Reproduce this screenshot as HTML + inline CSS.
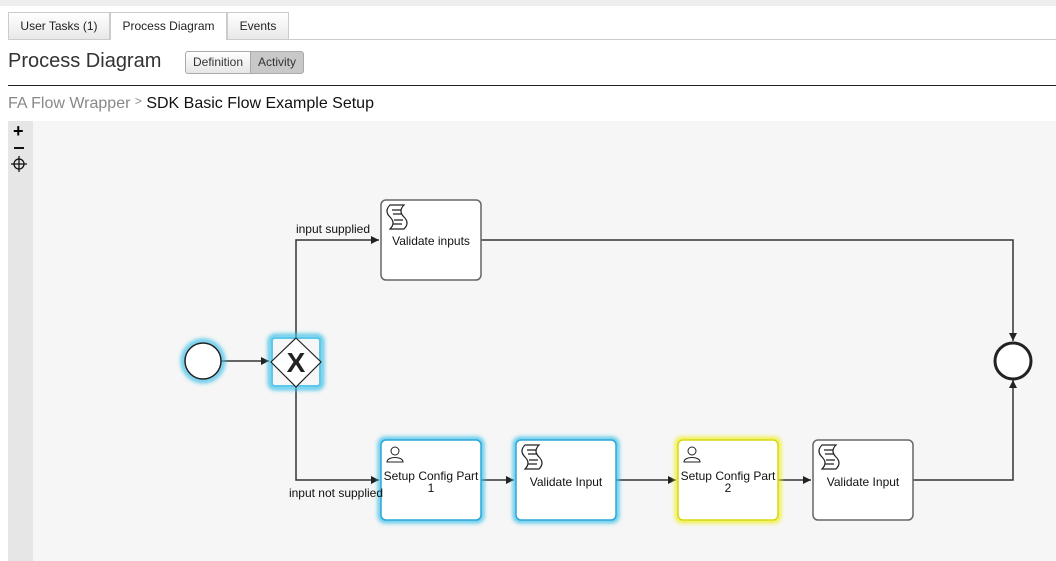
<!DOCTYPE html>
<html><head><meta charset="utf-8"><style>
body{margin:0;width:1056px;height:561px;overflow:hidden;background:#fff;font-family:"Liberation Sans",Arial,sans-serif;position:relative}
.a{position:absolute}
.tab{position:absolute;top:12px;height:27px;border:1px solid #ccc;border-bottom:none;font-size:12px;line-height:27px;text-align:center;background:linear-gradient(#fff,#e8e8e8);color:#222;box-sizing:border-box}
.btn{position:absolute;top:51px;height:23px;border:1px solid #aaa;font-size:12px;line-height:21px;text-align:center;box-sizing:border-box;color:#333}
</style></head><body>
<div class="a" style="left:0;top:0;width:1056px;height:6px;background:#eee"></div>
<div class="a" style="left:8px;top:39px;width:1048px;height:1px;background:#ccc"></div>
<div class="tab" style="left:8px;width:102px">User Tasks (1)</div>
<div class="tab" style="left:110px;width:117px;background:#fff;height:28px">Process Diagram</div>
<div class="tab" style="left:227px;width:62px">Events</div>
<div class="a" style="left:8px;top:50px;font-size:20px;color:#333">Process Diagram</div>
<div class="btn" style="left:185px;width:66px;border-radius:3px 0 0 3px;background:linear-gradient(#fff,#e6e6e6)">Definition</div>
<div class="btn" style="left:250px;width:54px;border-radius:0 3px 3px 0;background:#c8c8c8">Activity</div>
<div class="a" style="left:8px;top:85px;width:1048px;height:1px;background:#222"></div>
<div class="a" style="left:8px;top:94px;font-size:16px;color:#888">FA Flow Wrapper <span style="font-size:12px;vertical-align:3px">&gt;</span> <span style="color:#111">SDK Basic Flow Example Setup</span></div>
<div class="a" style="left:8px;top:121px;width:1048px;height:440px;background:#f6f6f6"></div>
<div class="a" style="left:8px;top:121px;width:25px;height:440px;background:#e6e6e6"></div>
<div class="a" style="left:13px;top:121px;font-size:18px;font-weight:bold;line-height:20px">+</div>
<div class="a" style="left:14px;top:147px;width:10px;height:2px;background:#111"></div>
<svg class="a" style="left:0;top:0" width="1056" height="561">
<defs>
<marker id="ar" markerWidth="8" markerHeight="8" refX="8" refY="4" orient="auto" markerUnits="userSpaceOnUse"><path d="M0,0L8,4L0,8z" fill="#222"/></marker>
<filter id="gb" x="-30%" y="-30%" width="160%" height="160%"><feGaussianBlur stdDeviation="2"/></filter>
</defs>
<g stroke="#111" fill="none" stroke-width="1.3"><circle cx="19" cy="164" r="5"/><path d="M19,156v16M11,164h16"/></g>
<g stroke="#333" stroke-width="1.5" fill="none">
<path d="M221,361H269" marker-end="url(#ar)"/>
<path d="M296,337V240H379" marker-end="url(#ar)"/>
<path d="M296,387V480H379" marker-end="url(#ar)"/>
<path d="M481,240H1013V341" marker-end="url(#ar)"/>
<path d="M481,480H514" marker-end="url(#ar)"/>
<path d="M616,480H676" marker-end="url(#ar)"/>
<path d="M778,480H811" marker-end="url(#ar)"/>
<path d="M913,480H1013V380" marker-end="url(#ar)"/>
</g>
<!-- glows -->
<circle cx="203" cy="361" r="20" fill="none" stroke="#3cc0e8" stroke-width="4" filter="url(#gb)"/>
<rect x="270" y="336" width="52" height="52" rx="5" fill="none" stroke="#3cc0e8" stroke-width="4" filter="url(#gb)"/>
<rect x="380" y="439" width="102" height="82" rx="5" fill="none" stroke="#3cc0e8" stroke-width="4" filter="url(#gb)"/>
<rect x="515" y="439" width="102" height="82" rx="5" fill="none" stroke="#3cc0e8" stroke-width="4" filter="url(#gb)"/>
<rect x="677" y="439" width="102" height="82" rx="5" fill="none" stroke="#f0f020" stroke-width="4" filter="url(#gb)"/>
<circle cx="203" cy="361" r="18" fill="#fff" stroke="#222" stroke-width="1.5"/>
<rect x="272" y="338" width="48" height="48" rx="3" fill="#f6f6f6" stroke="#5cc8ec" stroke-width="2"/>
<path d="M296,338L321,362L296,387L271,362z" fill="#fff" stroke="#222" stroke-width="1.2"/>
<text x="296" y="372" font-size="28" font-weight="bold" text-anchor="middle" font-family="Liberation Sans" fill="#222">X</text>
<circle cx="1013" cy="361" r="18" fill="#fff" stroke="#222" stroke-width="3"/>
<g fill="#fff" stroke="#666" stroke-width="1.5">
<rect x="381" y="200" width="100" height="80" rx="5"/>
<rect x="381" y="440" width="100" height="80" rx="5" stroke="#2aa8d8"/>
<rect x="516" y="440" width="100" height="80" rx="5" stroke="#2aa8d8"/>
<rect x="678" y="440" width="100" height="80" rx="5" stroke="#d8d810"/>
<rect x="813" y="440" width="100" height="80" rx="5"/>
</g>
<g fill="none" stroke="#222" stroke-width="1.2">
<path d="M390,205h14c-4,4-4,8 0,12c4,4 4,8 0,12h-14c4,-4 4,-8 0,-12c-4,-4-4,-8 0,-12zM392,210h9M393,214h9M394,220h9M393,224h9"/>
<path d="M525,445h14c-4,4-4,8 0,12c4,4 4,8 0,12h-14c4,-4 4,-8 0,-12c-4,-4-4,-8 0,-12zM527,450h9M528,454h9M529,460h9M528,464h9"/>
<path d="M822,445h14c-4,4-4,8 0,12c4,4 4,8 0,12h-14c4,-4 4,-8 0,-12c-4,-4-4,-8 0,-12zM824,450h9M825,454h9M826,460h9M825,464h9"/>
<g stroke-width="1"><circle cx="395" cy="451" r="4"/><path d="M387,462c0,-6 16,-6 16,0z"/>
<circle cx="692" cy="451" r="4"/><path d="M684,462c0,-6 16,-6 16,0z"/></g>
</g>
<g font-family="Liberation Sans" font-size="12" fill="#111" text-anchor="middle">
<text x="431" y="245">Validate inputs</text>
<text x="431" y="480">Setup Config Part</text><text x="431" y="492">1</text>
<text x="566" y="486">Validate Input</text>
<text x="728" y="480">Setup Config Part</text><text x="728" y="492">2</text>
<text x="863" y="486">Validate Input</text>
<text x="333" y="233">input supplied</text>
<text x="336" y="497">input not supplied</text>
</g>
</svg>
</body></html>
